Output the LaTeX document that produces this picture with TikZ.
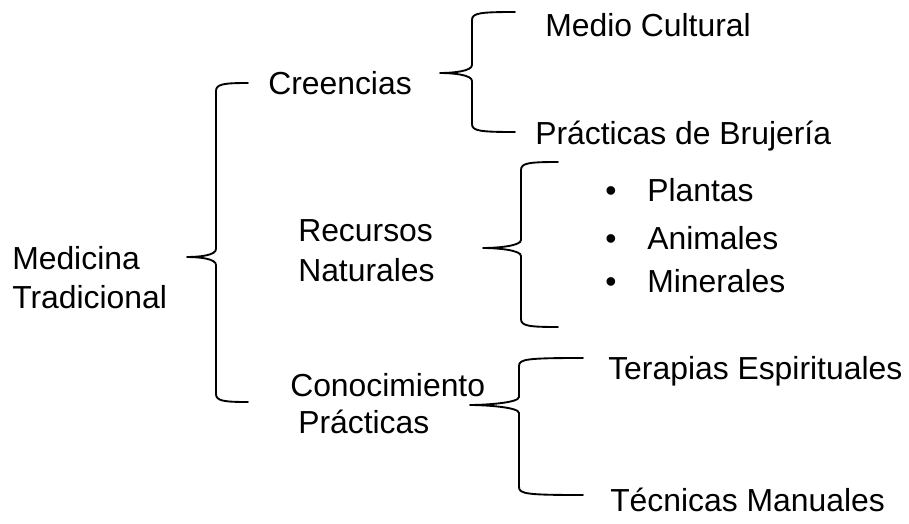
\documentclass[tikz,border=0pt]{standalone}
\usepackage{fontspec}
\setmainfont{Liberation Sans}
\tikzset{
  lbl/.style={anchor=base west, inner sep=0pt, font=\fontsize{23.9}{28}\selectfont},
  brc/.style={line width=1.4pt, line join=round, line cap=round}
}
% #1 xv, #2 ytop, #3 ytip, #4 ybot, #5 xtip, #6 xend
\newcommand\mybrace[6]{%
  \draw[brc] (#6,#2) .. controls (#1+8,#2) and (#1,#2+1) .. (#1,#2+8)
    -- (#1,#3-8) .. controls (#1,#3-2) and (#5+14,#3) .. (#5,#3)
    .. controls (#5+14,#3) and (#1,#3+2) .. (#1,#3+8)
    -- (#1,#4-8) .. controls (#1,#4-1) and (#1+8,#4) .. (#6,#4);}
\begin{document}
\begin{tikzpicture}[x=0.75pt,y=-0.75pt]
\useasboundingbox (0,0) rectangle (909,524);
\node[lbl] (med) at (12,269) {Medicina};
\node[lbl] (trad) at (12,308) {Tradicional};
\node[lbl] (cre) at (268,95) {Creencias};
\node[lbl] (rec) at (298,241) {Recursos};
\node[lbl] (nat) at (298,281) {Naturales};
\node[lbl] (con) at (290,396) {Conocimiento};
\node[lbl] (pra) at (298,433) {Prácticas};
\node[lbl] (mc) at (545,37) {Medio Cultural};
\node[lbl] (pb) at (535,145) {Prácticas de Brujería};
\node[lbl] (b1) at (605,201) {\textbullet};
\node[lbl] (b2) at (605,249) {\textbullet};
\node[lbl] (b3) at (605,292) {\textbullet};
\node[lbl] (pl) at (647,201) {Plantas};
\node[lbl] (an) at (647,249) {Animales};
\node[lbl] (mi) at (647,292) {Minerales};
\node[lbl] (te) at (608,379) {Terapias Espirituales};
\node[lbl] (tm) at (610,511) {Técnicas Manuales};
\mybrace{216}{83}{257}{402}{187}{248}
\mybrace{472}{12}{73}{132}{440}{515}
\mybrace{521}{162}{248}{327}{483}{558}
\mybrace{519}{358}{405}{495}{470}{583}
\end{tikzpicture}
\end{document}
